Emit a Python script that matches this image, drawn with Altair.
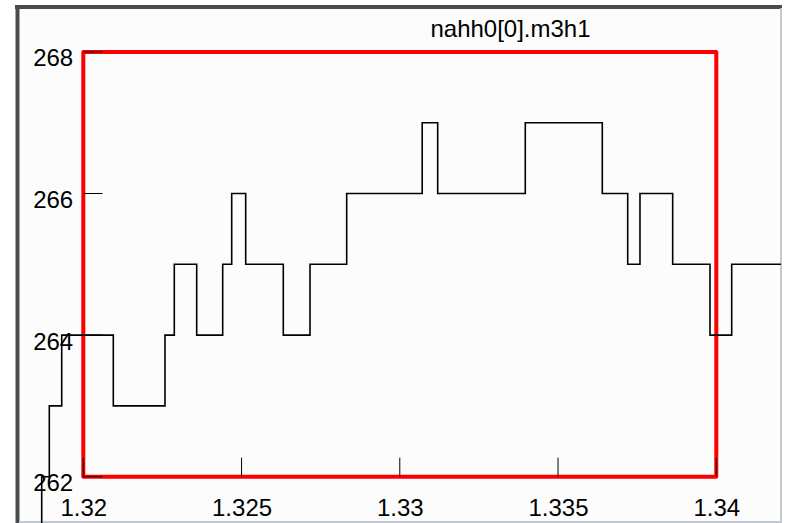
import altair as alt
import pandas as pd

title_text = "nahh0[0].m3h1"

# step trace (value holds until next x)
step_x = [1.3183, 1.318686, 1.318926, 1.319318, 1.320948, 1.322581, 1.322875,
          1.323583, 1.324404, 1.324689, 1.325131, 1.326319, 1.327163, 1.328322,
          1.330708, 1.331197, 1.333965, 1.336398, 1.337201, 1.337589, 1.338622,
          1.339801, 1.340487, 1.342044]
step_y = [261, 262, 263, 264, 263, 264, 265,
          264, 265, 266, 265, 264, 265, 266,
          267, 266, 267, 266, 265, 266, 265,
          264, 265, 265]

x_ticks = [1.32, 1.325, 1.33, 1.335, 1.34]
y_ticks = [262, 264, 266, 268]
box_x = [1.32, 1.34]
box_y = [262, 268]

W, H = 790, 523
FONT = "Liberation Sans"

xs = alt.Scale(domain=[1.317368, 1.342329], nice=False, zero=False)
ys = alt.Scale(domain=[261.3460, 268.7331], nice=False, zero=False)

x_axis = alt.Axis(values=x_ticks, format=".3~f", orient="bottom", offset=-46.3,
                  domain=False, ticks=False, tickSize=0, grid=False, title=None,
                  labelFont=FONT, labelFontSize=24, labelColor="black",
                  labelPadding=19.5, labelFlush=False, labelOverlap=False,
                  labelBound=False, zindex=1)
y_axis = alt.Axis(values=y_ticks, format="d", orient="left", offset=-83.3,
                  domain=False, ticks=False, tickSize=0, grid=False, title=None,
                  labelFont=FONT, labelFontSize=24, labelColor="black",
                  labelPadding=10.6, labelOffset=7, labelFlush=False,
                  labelOverlap=False, labelBound=False, zindex=1)

line_df = pd.DataFrame({"x": step_x, "y": step_y})
box_df = pd.DataFrame({"x": [box_x[0]], "x2": [box_x[1]], "y": [box_y[0]], "y2": [box_y[1]]})
xt_df = pd.DataFrame({"t": x_ticks, "base": [box_y[0]] * len(x_ticks)})
yt_df = pd.DataFrame({"t": y_ticks, "base": [box_x[0]] * len(y_ticks)})
title_df = pd.DataFrame({"label": [title_text]})

bg = alt.Chart(title_df).mark_rect(fill="#fcfcfc").encode(
    x=alt.value(19), x2=alt.value(781), y=alt.value(9), y2=alt.value(521))

frame_top = alt.Chart(title_df).mark_rule(color="#4a4a4a", strokeWidth=4).encode(
    x=alt.value(15), x2=alt.value(782), y=alt.value(7))
frame_left = alt.Chart(title_df).mark_rule(color="#4a4a4a", strokeWidth=4).encode(
    x=alt.value(17.5), y=alt.value(5), y2=alt.value(523))
frame_right = alt.Chart(title_df).mark_rule(color="#c5cad2", strokeWidth=2).encode(
    x=alt.value(781), y=alt.value(8), y2=alt.value(523))
frame_bottom = alt.Chart(title_df).mark_rule(color="#c5cad2", strokeWidth=2).encode(
    x=alt.value(19), x2=alt.value(782), y=alt.value(522))

box = alt.Chart(box_df).mark_rect(fill=None, stroke="#ff0000", strokeWidth=4,
                                  strokeJoin="round").encode(
    x=alt.X("x:Q", scale=xs, axis=x_axis),
    x2="x2:Q",
    y=alt.Y("y:Q", scale=ys, axis=y_axis),
    y2="y2:Q",
)

line = alt.Chart(line_df).mark_line(interpolate="step-after", color="black",
                                    strokeWidth=1.6, clip=True).encode(
    x=alt.X("x:Q", scale=xs, axis=x_axis),
    y=alt.Y("y:Q", scale=ys, axis=y_axis),
)

xtick = alt.Chart(xt_df).mark_rule(color="black", strokeWidth=1).encode(
    x=alt.X("t:Q", scale=xs, axis=x_axis),
    y=alt.Y("base:Q", scale=ys, axis=y_axis),
    y2=alt.value(457.7),
)
ytick = alt.Chart(yt_df).mark_rule(color="black", strokeWidth=1).encode(
    y=alt.Y("t:Q", scale=ys, axis=y_axis),
    x=alt.X("base:Q", scale=xs, axis=x_axis),
    x2=alt.value(102.5),
)

title = alt.Chart(title_df).mark_text(font=FONT, fontSize=24, color="black",
                                      align="center", baseline="alphabetic").encode(
    text="label:N", x=alt.value(510.5), y=alt.value(36.7))

chart = alt.layer(bg, frame_top, frame_left, frame_right, frame_bottom,
                  box, line, xtick, ytick, title).properties(
    width=W, height=H,
    autosize=alt.AutoSizeParams(type="none"),
    padding=0,
    background="white",
).configure_view(stroke=None)

chart.save("out.html", embed_options={"renderer": "svg", "actions": False})
